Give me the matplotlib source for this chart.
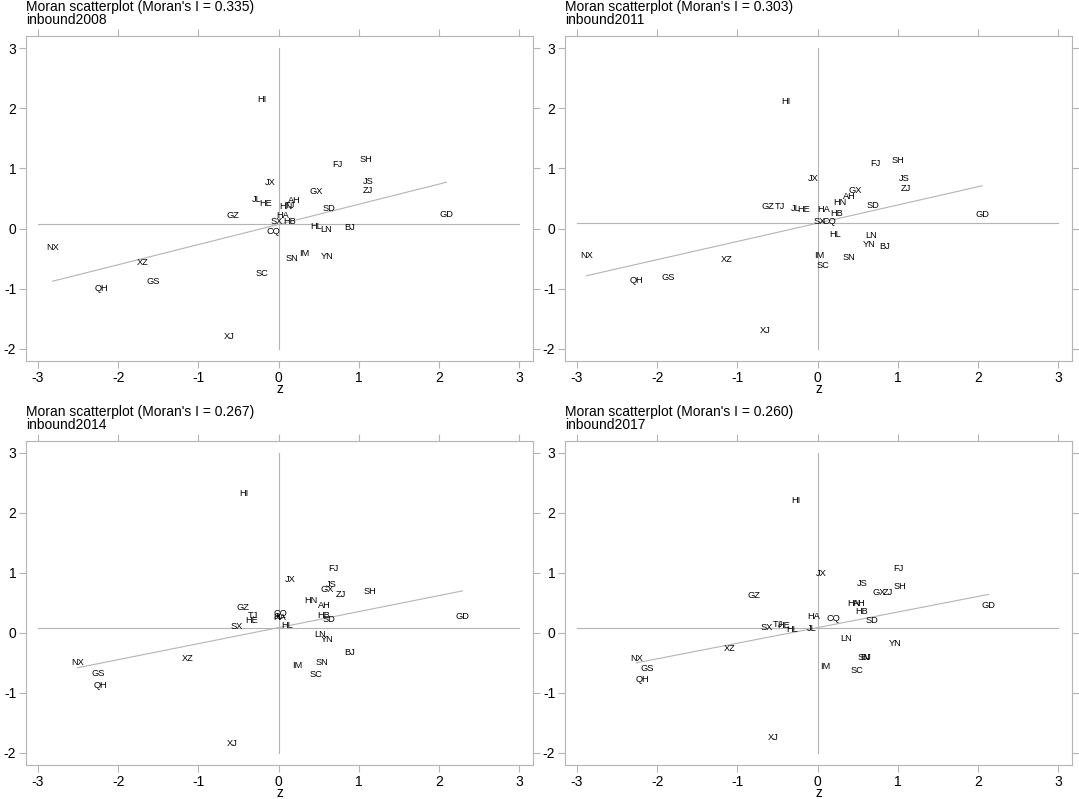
import matplotlib
matplotlib.use("Agg")
import matplotlib.pyplot as plt
import numpy as np

plt.rcParams['font.family'] = ['Liberation Sans', 'DejaVu Sans']
plt.rcParams['axes.unicode_minus'] = False

provinces = ["BJ", "TJ", "HE", "SX", "IM", "LN", "JL", "HL", "SH", "JS", "ZJ",
             "AH", "FJ", "JX", "SD", "HA", "HB", "HN", "GD", "GX", "HI", "CQ",
             "SC", "GZ", "YN", "XZ", "SN", "GS", "QH", "NX", "XJ"]

years = ["2008", "2011", "2014", "2017"]
morans_i = [0.335, 0.303, 0.267, 0.260]
mean_wz = [0.07, 0.09, 0.09, 0.09]

# z values (standardized inbound) per year, same order as provinces
z_2008 = [0.89, 0.14, -0.16, -0.02, 0.32, 0.59, -0.28, 0.47, 1.09, 1.11, 1.11,
          0.19, 0.73, -0.11, 0.62, 0.05, 0.13, 0.09, 2.09, 0.47, -0.21, -0.07,
          -0.21, -0.57, 0.60, -1.69, 0.17, -1.57, -2.21, -2.82, -0.62]
wz_2008 = [0.02, 0.39, 0.41, 0.12, -0.42, -0.01, 0.49, 0.04, 1.15, 0.79, 0.64,
           0.46, 1.07, 0.76, 0.34, 0.21, 0.11, 0.37, 0.24, 0.61, 2.15, -0.04,
           -0.74, 0.21, -0.47, -0.57, -0.49, -0.88, -0.99, -0.31, -1.80]

z_2011 = [0.84, -0.47, -0.17, 0.03, 0.02, 0.67, -0.27, 0.22, 1.00, 1.08, 1.10,
          0.39, 0.72, -0.05, 0.69, 0.08, 0.24, 0.28, 2.05, 0.47, -0.40, 0.15,
          0.06, -0.62, 0.64, -1.13, 0.39, -1.86, -2.26, -2.88, -0.65]
wz_2011 = [-0.29, 0.37, 0.31, 0.12, -0.45, -0.11, 0.33, -0.09, 1.13, 0.83, 0.66,
           0.53, 1.08, 0.84, 0.38, 0.31, 0.25, 0.43, 0.24, 0.64, 2.12, 0.12,
           -0.62, 0.37, -0.26, -0.51, -0.48, -0.82, -0.86, -0.44, -1.69]

z_2014 = [0.88, -0.32, -0.34, -0.53, 0.23, 0.52, 0.00, 0.11, 1.14, 0.65, 0.78,
          0.57, 0.68, 0.14, 0.62, 0.01, 0.56, 0.40, 2.29, 0.60, -0.43, 0.02,
          0.46, -0.44, 0.60, -1.13, 0.54, -2.25, -2.22, -2.51, -0.58]
wz_2014 = [-0.33, 0.29, 0.21, 0.11, -0.55, -0.02, 0.28, 0.13, 0.70, 0.81, 0.64,
           0.46, 1.08, 0.89, 0.22, 0.25, 0.30, 0.54, 0.27, 0.72, 2.33, 0.32,
           -0.69, 0.43, -0.11, -0.42, -0.49, -0.67, -0.87, -0.49, -1.85]

z_2017 = [0.60, -0.50, -0.42, -0.64, 0.09, 0.36, -0.07, -0.32, 1.02, 0.56, 0.87,
          0.52, 1.01, 0.04, 0.68, -0.05, 0.55, 0.45, 2.13, 0.77, -0.27, 0.20,
          0.49, -0.80, 0.97, -1.10, 0.58, -2.13, -2.18, -2.26, -0.55]
wz_2017 = [-0.41, 0.14, 0.12, 0.10, -0.56, -0.09, 0.08, 0.05, 0.78, 0.83, 0.68,
           0.50, 1.08, 0.99, 0.21, 0.27, 0.36, 0.50, 0.46, 0.67, 2.21, 0.24,
           -0.63, 0.62, -0.18, -0.26, -0.41, -0.59, -0.77, -0.43, -1.75]

z_all = [z_2008, z_2011, z_2014, z_2017]
wz_all = [wz_2008, wz_2011, wz_2014, wz_2017]

W, H = 1079, 799
fig = plt.figure(figsize=(W / 100, H / 100), dpi=100)

# axes boxes in pixels: left, top, right, bottom
boxes = [(26, 36, 533, 361), (565, 36, 1072, 361),
         (26, 441, 533, 765), (565, 441, 1072, 765)]

grey = "#b4b4b4"

for k in range(4):
    l, t, r, b = boxes[k]
    ax = fig.add_axes([l / W, 1 - b / H, (r - l) / W, (b - t) / H])
    z = np.array(z_all[k])
    wz = np.array(wz_all[k])

    ax.set_xlim(-3.15, 3.17)
    ax.set_ylim(-2.2, 3.2)

    # quadrant lines
    ax.plot([-3, 3], [mean_wz[k], mean_wz[k]], color=grey, lw=0.8)
    ax.plot([0, 0], [-2, 3], color=grey, lw=0.8)

    # fitted line, slope = Moran's I
    xs = np.array([z.min(), z.max()])
    ax.plot(xs, mean_wz[k] + morans_i[k] * xs, color=grey, lw=0.8)

    for name, xv, yv in zip(provinces, z, wz):
        ax.text(xv, yv, name, fontsize=6.7, ha="center", va="center")

    for s in ax.spines.values():
        s.set_color(grey)
        s.set_linewidth(0.8)
    ax.set_xticks([-3, -2, -1, 0, 1, 2, 3])
    ax.set_yticks([-2, -1, 0, 1, 2, 3])
    ax.tick_params(direction="out", length=5, color=grey, width=0.8,
                   labelsize=10, top=True, right=True,
                   labeltop=False, labelright=False, pad=2)
    ax.set_xlabel("z", fontsize=10, labelpad=-2)

    ax.text(0, 1.0 + 25 / (b - t), "Moran scatterplot (Moran's I = %.3f)" % morans_i[k],
            transform=ax.transAxes, fontsize=10, ha="left", va="baseline")
    ax.text(0, 1.0 + 12 / (b - t), "inbound" + years[k],
            transform=ax.transAxes, fontsize=10, ha="left", va="baseline")

fig.savefig("out.png", dpi=100)
